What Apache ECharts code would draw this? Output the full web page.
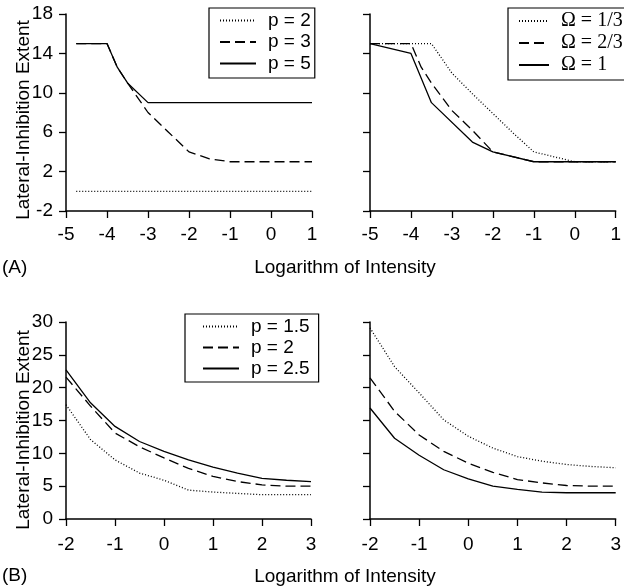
<!DOCTYPE html>
<html>
<head>
<meta charset="utf-8">
<script src="https://cdn.jsdelivr.net/npm/echarts@6/dist/echarts.min.js"></script>
<style>
html,body{margin:0;padding:0;background:#fff;}
#chart{width:624px;height:587px;}
</style>
</head>
<body>
<div id="chart"></div>
<script>
// ---- Panel A (left): Lateral-inhibition extent vs log intensity, different p ----
var aL_p2_x = [-4.75, -4, -3, -2, -1, 0, 1];
var aL_p2_y = [0, 0, 0, 0, 0, 0, 0];
var aL_p3_x = [-4.75, -4, -3.75, -3.5, -3, -2.5, -2, -1.5, -1, 0, 1];
var aL_p3_y = [15, 15, 12.6, 11, 8, 6, 4, 3.3, 3, 3, 3];
var aL_p5_x = [-4.75, -4, -3.75, -3.5, -3, -2, -1, 0, 1];
var aL_p5_y = [15, 15, 12.6, 11, 9, 9, 9, 9, 9];

// ---- Panel A (right): different Omega ----
var aR_o13_x = [-5, -4, -3.5, -3, -2.5, -2, -1.5, -1, -0.5, 0, 1];
var aR_o13_y = [15, 15, 15, 12, 9.9, 7.9, 5.9, 4, 3.5, 3, 3];
var aR_o23_x = [-5, -4, -3.75, -3.5, -3, -2.5, -2, -1, 0, 1];
var aR_o23_y = [15, 15, 12.6, 11, 8.2, 6.2, 4, 3, 3, 3];
var aR_o1_x = [-5, -4, -3.5, -2.5, -2, -1, 0, 1];
var aR_o1_y = [15, 14, 9, 5, 4, 3, 3, 3];

// ---- Panel B ----
var bX = [-2, -1.5, -1, -0.5, 0, 0.5, 1, 1.5, 2, 2.5, 3];
var bL_p15 = [17.4, 12.1, 9.0, 7.0, 5.9, 4.4, 4.1, 3.9, 3.7, 3.7, 3.7];
var bL_p2  = [21.6, 17.2, 13.1, 11.0, 9.3, 7.7, 6.5, 5.7, 5.2, 5.0, 5.0];
var bL_p25 = [22.7, 17.7, 14.1, 11.8, 10.3, 9.0, 7.9, 7.0, 6.2, 5.9, 5.7];
var bR_dot  = [29.1, 23.2, 19.2, 15.1, 12.6, 10.8, 9.5, 8.8, 8.3, 8.0, 7.8];
var bR_dash = [21.5, 16.4, 12.8, 10.3, 8.5, 7.1, 6.0, 5.5, 5.1, 5.0, 5.0];
var bR_solid= [16.9, 12.3, 9.7, 7.5, 6.1, 5.0, 4.5, 4.1, 4.0, 4.0, 4.0];

// tick settings
var aXMin = -5, aXMax = 1, aXStep = 1;
var aYMin = -2, aYMax = 18, aYStep = 4;
var bXMin = -2, bXMax = 3, bXStep = 1;
var bYMin = 0, bYMax = 30, bYStep = 5;

// labels
var legendLabels = {
  aL_p2: 'p = 2', aL_p3: 'p = 3', aL_p5: 'p = 5',
  aR_o13: 'Ω = 1/3', aR_o23: 'Ω = 2/3', aR_o1: 'Ω = 1',
  bL_p15: 'p = 1.5', bL_p2: 'p = 2', bL_p25: 'p = 2.5'
};
var yTitle = 'Lateral-Inhibition Extent';
var xTitle = 'Logarithm of Intensity';

function zip(xs, ys) { return xs.map(function (x, i) { return [x, ys[i]]; }); }

var SANS = '"Liberation Sans", Arial, Helvetica, sans-serif';
var SERIF = '"Liberation Serif", "Times New Roman", serif';
var FS = 19;
var DOT = [1, 2];
var DASH = [10, 5];

function mkSeries(name, gi, data, type) {
  return {
    name: name, type: 'line', xAxisIndex: gi, yAxisIndex: gi,
    data: data, symbol: 'none', smooth: false, silent: true,
    lineStyle: { color: '#000', width: 1.3, type: type },
    itemStyle: { color: '#000' }
  };
}

function xAx(gi, mn, mx, st, margin) {
  return {
    type: 'value', gridIndex: gi, min: mn, max: mx, interval: st,
    axisLine: { show: true, onZero: false, lineStyle: { color: '#000', width: 1.5 } },
    axisTick: { show: true, length: 7, lineStyle: { color: '#000', width: 1.3 } },
    axisLabel: { show: true, margin: margin, color: '#000', fontSize: FS, fontFamily: SANS },
    splitLine: { show: false }
  };
}
function yAx(gi, mn, mx, st, showLabel) {
  return {
    type: 'value', gridIndex: gi, min: mn, max: mx, interval: st,
    axisLine: { show: true, onZero: false, lineStyle: { color: '#000', width: 1.5 } },
    axisTick: { show: true, length: 7, lineStyle: { color: '#000', width: 1.3 } },
    axisLabel: { show: showLabel, margin: 13, color: '#000', fontSize: FS, fontFamily: SANS },
    splitLine: { show: false }
  };
}

function mkLegend(names, left, top, font, fs, pad, gap, iconW) {
  return {
    data: names, left: left, top: top, orient: 'vertical',
    itemWidth: iconW, itemHeight: 14, itemGap: gap,
    padding: pad, borderColor: '#000', borderWidth: 1.2, borderRadius: 0,
    selectedMode: false, backgroundColor: '#fff',
    itemStyle: { opacity: 0 },
    formatter: function (n) { return legendLabels[n]; },
    textStyle: { color: '#000', fontSize: fs, fontFamily: font, padding: [0, 0, 0, 7] }
  };
}

var chart = echarts.init(document.getElementById('chart'), null, { renderer: 'canvas' });
chart.setOption({
  animation: false,
  backgroundColor: '#fff',
  grid: [
    { left: 66, top: 14, width: 246, height: 197 },
    { left: 370, top: 14, width: 247, height: 197 },
    { left: 66, top: 322, width: 245, height: 197 },
    { left: 370, top: 322, width: 247, height: 197 }
  ],
  xAxis: [
    xAx(0, aXMin, aXMax, aXStep, 14),
    xAx(1, aXMin, aXMax, aXStep, 14),
    xAx(2, bXMin, bXMax, bXStep, 16),
    xAx(3, bXMin, bXMax, bXStep, 16)
  ],
  yAxis: [
    yAx(0, aYMin, aYMax, aYStep, true),
    yAx(1, aYMin, aYMax, aYStep, false),
    yAx(2, bYMin, bYMax, bYStep, true),
    yAx(3, bYMin, bYMax, bYStep, false)
  ],
  legend: [
    mkLegend(['aL_p2', 'aL_p3', 'aL_p5'], 209, 8, SANS, FS, [3, 4, 5, 10], 2.5, 36),
    mkLegend(['aR_o13', 'aR_o23', 'aR_o1'], 508, 8, SERIF, 20, [3, 8, 5, 10], 2, 30),
    mkLegend(['bL_p15', 'bL_p2', 'bL_p25'], 185, 314, SANS, FS, [3, 9, 4, 17], 2, 36)
  ],
  series: [
    mkSeries('aL_p2', 0, zip(aL_p2_x, aL_p2_y), DOT),
    mkSeries('aL_p3', 0, zip(aL_p3_x, aL_p3_y), DASH),
    mkSeries('aL_p5', 0, zip(aL_p5_x, aL_p5_y), 'solid'),
    mkSeries('aR_o13', 1, zip(aR_o13_x, aR_o13_y), DOT),
    mkSeries('aR_o23', 1, zip(aR_o23_x, aR_o23_y), DASH),
    mkSeries('aR_o1', 1, zip(aR_o1_x, aR_o1_y), 'solid'),
    mkSeries('bL_p15', 2, zip(bX, bL_p15), DOT),
    mkSeries('bL_p2', 2, zip(bX, bL_p2), DASH),
    mkSeries('bL_p25', 2, zip(bX, bL_p25), 'solid'),
    mkSeries('bR_dot', 3, zip(bX, bR_dot), DOT),
    mkSeries('bR_dash', 3, zip(bX, bR_dash), DASH),
    mkSeries('bR_solid', 3, zip(bX, bR_solid), 'solid')
  ],
  graphic: [
    { type: 'text', x: 24, y: 120, rotation: Math.PI / 2,
      style: { text: yTitle, font: FS + 'px ' + SANS, fill: '#000', align: 'center', verticalAlign: 'middle' } },
    { type: 'text', x: 24, y: 430, rotation: Math.PI / 2,
      style: { text: yTitle, font: FS + 'px ' + SANS, fill: '#000', align: 'center', verticalAlign: 'middle' } },
    { type: 'text', x: 345, y: 268,
      style: { text: xTitle, font: FS + 'px ' + SANS, fill: '#000', align: 'center', verticalAlign: 'middle' } },
    { type: 'text', x: 345, y: 577,
      style: { text: xTitle, font: FS + 'px ' + SANS, fill: '#000', align: 'center', verticalAlign: 'middle' } },
    { type: 'text', x: 2, y: 268,
      style: { text: '(A)', font: FS + 'px ' + SANS, fill: '#000', align: 'left', verticalAlign: 'middle' } },
    { type: 'text', x: 2, y: 576,
      style: { text: '(B)', font: FS + 'px ' + SANS, fill: '#000', align: 'left', verticalAlign: 'middle' } }
  ]
});
</script>
</body>
</html>
